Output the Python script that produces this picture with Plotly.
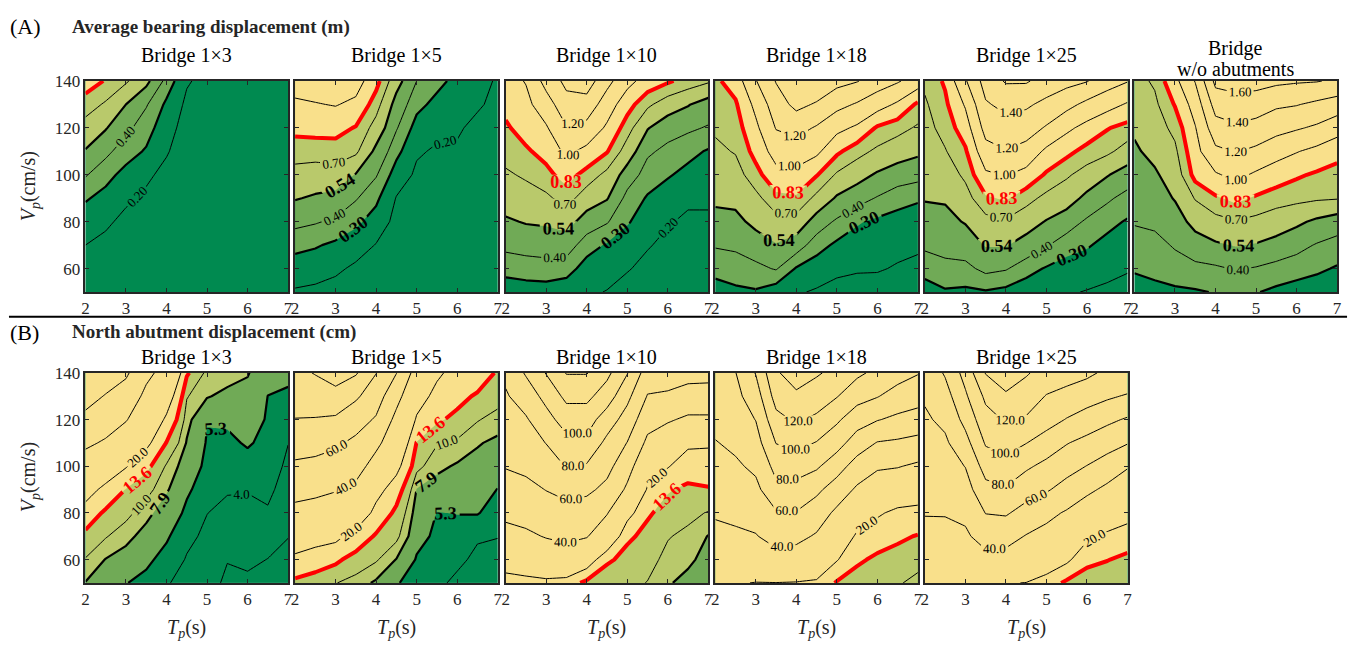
import numpy as np
import plotly.graph_objects as go

W, H = 1359, 648
SERIF = "Liberation Serif, Times New Roman, serif"
INK = "#262626"

# Grid: pulse period Tp (s) and pulse velocity Vp (cm/s)
TP = [2.0, 2.5, 3.0, 3.5, 4.0, 4.5, 5.0, 5.5, 6.0, 6.5, 7.0]
VP = [50, 60, 70, 80, 90, 100, 110, 120, 130, 140]

# ---- (A) average bearing displacement (m); one row per Tp, values along VP ----
BEARING_1X3 = [
    [0.12, 0.16, 0.20, 0.25, 0.31, 0.41, 0.53, 0.64, 0.77, 0.90],
    [0.10, 0.13, 0.17, 0.22, 0.27, 0.33, 0.43, 0.55, 0.68, 0.82],
    [0.09, 0.11, 0.14, 0.17, 0.22, 0.27, 0.34, 0.43, 0.54, 0.72],
    [0.08, 0.10, 0.12, 0.15, 0.18, 0.22, 0.29, 0.34, 0.41, 0.58],
    [0.07, 0.08, 0.10, 0.12, 0.14, 0.17, 0.21, 0.24, 0.28, 0.36],
    [0.06, 0.07, 0.08, 0.09, 0.10, 0.12, 0.14, 0.16, 0.18, 0.21],
    [0.05, 0.06, 0.07, 0.08, 0.09, 0.10, 0.11, 0.13, 0.15, 0.17],
    [0.05, 0.05, 0.06, 0.07, 0.08, 0.09, 0.10, 0.11, 0.13, 0.15],
    [0.04, 0.05, 0.06, 0.06, 0.07, 0.08, 0.09, 0.10, 0.11, 0.13],
    [0.04, 0.04, 0.05, 0.06, 0.06, 0.07, 0.08, 0.09, 0.10, 0.12],
    [0.03, 0.04, 0.05, 0.05, 0.06, 0.07, 0.07, 0.08, 0.09, 0.11],
]
BEARING_1X5 = [
    [0.19, 0.25, 0.33, 0.43, 0.55, 0.65, 0.76, 0.87, 0.97, 1.08],
    [0.18, 0.24, 0.31, 0.41, 0.52, 0.63, 0.76, 0.88, 0.99, 1.10],
    [0.16, 0.22, 0.28, 0.38, 0.49, 0.64, 0.77, 0.88, 1.01, 1.12],
    [0.14, 0.18, 0.25, 0.32, 0.41, 0.53, 0.73, 0.82, 0.96, 1.08],
    [0.12, 0.15, 0.195, 0.26, 0.32, 0.41, 0.50, 0.64, 0.76, 0.88],
    [0.10, 0.12, 0.15, 0.17, 0.195, 0.25, 0.33, 0.41, 0.48, 0.60],
    [0.09, 0.11, 0.13, 0.15, 0.17, 0.185, 0.21, 0.26, 0.33, 0.40],
    [0.08, 0.10, 0.12, 0.14, 0.16, 0.175, 0.19, 0.22, 0.27, 0.33],
    [0.07, 0.09, 0.11, 0.13, 0.15, 0.17, 0.19, 0.21, 0.24, 0.27],
    [0.06, 0.08, 0.10, 0.12, 0.14, 0.15, 0.17, 0.18, 0.21, 0.23],
    [0.06, 0.07, 0.09, 0.11, 0.12, 0.14, 0.15, 0.16, 0.18, 0.19],
]
BEARING_1X10 = [
    [0.25, 0.33, 0.43, 0.52, 0.61, 0.68, 0.75, 0.81, 0.87, 0.93],
    [0.26, 0.34, 0.45, 0.55, 0.64, 0.72, 0.81, 0.89, 0.95, 1.01],
    [0.26, 0.35, 0.46, 0.56, 0.67, 0.79, 0.88, 0.98, 1.11, 1.27],
    [0.24, 0.34, 0.46, 0.60, 0.76, 0.89, 1.04, 1.19, 1.33, 1.45],
    [0.22, 0.26, 0.34, 0.47, 0.62, 0.78, 0.95, 1.14, 1.32, 1.50],
    [0.195, 0.25, 0.29, 0.41, 0.55, 0.66, 0.84, 0.97, 1.10, 1.26],
    [0.15, 0.21, 0.25, 0.31, 0.36, 0.47, 0.63, 0.76, 0.89, 1.06],
    [0.13, 0.165, 0.21, 0.25, 0.29, 0.35, 0.42, 0.55, 0.73, 0.92],
    [0.11, 0.14, 0.17, 0.21, 0.25, 0.31, 0.37, 0.45, 0.62, 0.85],
    [0.10, 0.13, 0.16, 0.18, 0.22, 0.27, 0.33, 0.42, 0.55, 0.78],
    [0.10, 0.12, 0.15, 0.18, 0.22, 0.26, 0.29, 0.39, 0.47, 0.72],
]
BEARING_1X18 = [
    [0.26, 0.33, 0.41, 0.49, 0.57, 0.62, 0.67, 0.72, 0.76, 0.80],
    [0.28, 0.35, 0.42, 0.50, 0.58, 0.64, 0.71, 0.76, 0.81, 0.90],
    [0.29, 0.37, 0.47, 0.58, 0.66, 0.78, 0.88, 0.96, 1.05, 1.19],
    [0.24, 0.41, 0.53, 0.65, 0.79, 0.94, 1.08, 1.21, 1.31, 1.41],
    [0.21, 0.29, 0.46, 0.64, 0.81, 0.95, 1.10, 1.27, 1.45, 1.56],
    [0.19, 0.25, 0.34, 0.47, 0.66, 0.84, 1.04, 1.18, 1.38, 1.55],
    [0.17, 0.22, 0.28, 0.38, 0.52, 0.68, 0.86, 1.05, 1.26, 1.46],
    [0.16, 0.21, 0.26, 0.31, 0.45, 0.60, 0.75, 0.97, 1.18, 1.41],
    [0.15, 0.21, 0.25, 0.28, 0.39, 0.52, 0.67, 0.81, 1.08, 1.30],
    [0.14, 0.19, 0.23, 0.27, 0.33, 0.47, 0.61, 0.75, 0.97, 1.22],
    [0.13, 0.17, 0.22, 0.26, 0.31, 0.44, 0.57, 0.68, 0.80, 1.10],
]
BEARING_1X25 = [
    [0.25, 0.34, 0.42, 0.48, 0.55, 0.59, 0.62, 0.65, 0.68, 0.73],
    [0.29, 0.36, 0.45, 0.50, 0.555, 0.62, 0.69, 0.75, 0.80, 0.85],
    [0.28, 0.37, 0.46, 0.55, 0.64, 0.73, 0.81, 0.91, 1.02, 1.18],
    [0.29, 0.43, 0.55, 0.65, 0.81, 0.97, 1.13, 1.27, 1.38, 1.48],
    [0.27, 0.41, 0.55, 0.68, 0.85, 1.01, 1.19, 1.33, 1.45, 1.62],
    [0.24, 0.34, 0.48, 0.61, 0.75, 0.94, 1.13, 1.29, 1.43, 1.62],
    [0.22, 0.29, 0.41, 0.53, 0.66, 0.81, 0.96, 1.18, 1.35, 1.52],
    [0.21, 0.26, 0.34, 0.46, 0.61, 0.72, 0.87, 1.04, 1.26, 1.46],
    [0.195, 0.25, 0.31, 0.38, 0.50, 0.64, 0.78, 0.94, 1.15, 1.41],
    [0.18, 0.23, 0.27, 0.33, 0.42, 0.55, 0.73, 0.84, 1.07, 1.29],
    [0.16, 0.21, 0.25, 0.29, 0.36, 0.47, 0.64, 0.78, 0.98, 1.21],
]
BEARING_NO_ABUT = [
    [0.26, 0.31, 0.35, 0.41, 0.44, 0.48, 0.52, 0.56, 0.61, 0.65],
    [0.27, 0.33, 0.37, 0.42, 0.47, 0.52, 0.58, 0.63, 0.67, 0.72],
    [0.28, 0.36, 0.41, 0.47, 0.55, 0.61, 0.67, 0.74, 0.84, 0.95],
    [0.29, 0.37, 0.47, 0.59, 0.71, 0.88, 0.94, 0.99, 1.08, 1.21],
    [0.305, 0.38, 0.52, 0.65, 0.81, 0.98, 1.16, 1.32, 1.48, 1.65],
    [0.31, 0.41, 0.55, 0.69, 0.87, 1.05, 1.21, 1.37, 1.52, 1.68],
    [0.305, 0.39, 0.53, 0.66, 0.81, 0.97, 1.16, 1.33, 1.50, 1.67],
    [0.28, 0.36, 0.49, 0.62, 0.76, 0.91, 1.07, 1.27, 1.43, 1.64],
    [0.26, 0.34, 0.44, 0.57, 0.74, 0.85, 1.01, 1.22, 1.41, 1.62],
    [0.24, 0.32, 0.39, 0.51, 0.72, 0.81, 0.95, 1.17, 1.36, 1.61],
    [0.22, 0.29, 0.36, 0.46, 0.71, 0.78, 0.88, 1.08, 1.31, 1.57],
]

# ---- (B) north abutment displacement (cm) ----
ABUT_1X3 = [
    [7.8, 9.8, 12.5, 16.5, 24, 32, 43, 56, 66, 76],
    [6.5, 7.8, 10.2, 12.8, 17.5, 27, 38, 48, 59, 69],
    [5.35, 6.9, 8.6, 10.8, 13.4, 20.5, 30, 41, 51, 63],
    [4.9, 5.6, 7.0, 8.6, 11.0, 14.8, 22, 29, 36, 44],
    [4.1, 4.8, 5.5, 6.6, 8.2, 9.6, 13.4, 18.5, 25, 34],
    [3.6, 3.9, 4.3, 4.9, 5.6, 6.6, 7.7, 8.7, 10.2, 14.2],
    [3.2, 3.5, 3.75, 4.02, 4.4, 4.8, 5.1, 5.4, 8.1, 9.2],
    [2.9, 3.02, 3.3, 3.7, 4.1, 4.5, 4.9, 5.6, 7.2, 9.0],
    [2.8, 3.2, 3.5, 3.75, 4.05, 4.6, 5.5, 6.3, 7.0, 8.1],
    [2.7, 2.98, 3.4, 3.9, 4.2, 4.5, 4.8, 5.1, 5.28, 6.0],
    [2.5, 2.8, 3.02, 3.3, 3.6, 3.8, 4.02, 4.5, 5.1, 5.6],
]
ABUT_1X5 = [
    [12.5, 18, 26, 35, 46, 57, 68, 79.5, 88, 95],
    [12, 15.5, 24, 33, 44, 55, 67, 79, 90, 101],
    [10.1, 14.5, 22, 31, 41, 52, 63, 77, 94, 108],
    [9, 11.8, 17, 27, 36, 47, 56, 68, 83, 102],
    [7.5, 10.3, 13.0, 17.5, 23, 33, 44, 58, 69, 80.5],
    [5.5, 7.8, 10.7, 12.5, 16, 22.5, 29, 35, 46, 60.5],
    [4.3, 5.1, 6.0, 6.8, 7.8, 10.8, 13.4, 19, 24, 32],
    [4.2, 4.5, 4.9, 5.25, 6.8, 8.5, 10.2, 14.3, 17.5, 21.5],
    [3.8, 4.2, 4.7, 5.35, 6.2, 7.6, 9.5, 12.5, 15, 17],
    [3.4, 3.8, 4.1, 5.4, 6.1, 7.1, 8.1, 10.2, 13.0, 16.5],
    [3.1, 3.5, 4.05, 4.6, 5.25, 6.3, 7.4, 9.0, 11.2, 13.0],
]
ABUT_1X10 = [
    [17, 24, 34, 44, 52, 61, 67, 73, 78, 84],
    [17.5, 26, 37, 46, 55, 64, 71, 78, 89, 102],
    [18, 29, 41, 51, 60.5, 70, 80.5, 93, 106, 121],
    [17, 30, 44, 53, 66, 81, 94, 109, 125, 141],
    [12, 25, 41, 50, 64, 78, 95, 109, 125, 141],
    [10.3, 14.5, 29, 41, 55, 66, 75, 90, 110, 125],
    [10.8, 12.0, 14.5, 23, 37, 47, 59.5, 72, 85, 101],
    [9.9, 11, 12.3, 14.2, 19, 25, 36, 47, 59, 70],
    [8.1, 9.2, 10.2, 12, 14, 20.5, 28, 42, 57, 70],
    [7.3, 8.3, 9.3, 10.8, 12.7, 16.0, 21.5, 37, 52, 67],
    [6.4, 7.2, 7.8, 9.8, 13.2, 16.5, 21, 37, 52, 66],
]
ABUT_1X18 = [
    [21, 29, 35, 42, 48, 54, 59, 66, 72, 78],
    [21, 30, 37, 44, 51, 57, 64, 70, 75, 79.5],
    [19.6, 32, 39, 47, 55, 64, 72, 80.5, 90, 101],
    [19.8, 33, 47, 58, 75, 86, 100.5, 114, 128, 138],
    [19.5, 31, 45, 59, 73, 89, 106, 123, 137, 148],
    [18.5, 29, 38, 50, 64, 83, 99, 116, 131, 142],
    [13, 20.5, 28, 36, 51, 68, 88, 103, 121, 135],
    [11.3, 14.5, 18.5, 26, 37, 52, 70, 89, 107, 124],
    [10.5, 12.6, 16.2, 21, 31, 42, 59, 81, 101, 115],
    [10.3, 11.8, 14.5, 18.3, 26, 41, 57, 76, 92, 108],
    [9.2, 11, 13.3, 17.5, 25, 37, 54, 72, 88, 101],
]
ABUT_1X25 = [
    [20.3, 26, 34, 41, 46, 50, 54, 57.5, 62, 66],
    [20.5, 27, 35, 41, 47, 52, 57, 64, 72, 82],
    [21, 29, 37, 44, 52, 60.5, 73, 86, 97, 107],
    [21, 34, 48, 60.5, 74, 88, 102, 113, 124, 141],
    [20.5, 33, 47, 62, 78, 93, 108, 122, 137, 152],
    [19.8, 30, 39, 53, 68, 83, 100.5, 118, 130, 142],
    [16.5, 26, 34, 45, 62, 75, 91, 108, 119, 132],
    [12.5, 21.5, 30, 38, 53, 67, 81, 99, 114, 128],
    [11, 15, 21.5, 29, 44, 59.5, 74, 92, 108, 124],
    [10.5, 13.8, 18.5, 26, 36, 51, 68, 84, 103, 116],
    [10.2, 12.4, 16.5, 23, 32, 41, 61, 78, 98, 117],
]

# Panel titles; a list entry holds the lines of a stacked title
TOP_TITLES = ["Bridge 1×3", "Bridge 1×5", "Bridge 1×10", "Bridge 1×18",
              "Bridge 1×25", ["Bridge", "w/o abutments"]]
TOP_DATA = [BEARING_1X3, BEARING_1X5, BEARING_1X10, BEARING_1X18,
            BEARING_1X25, BEARING_NO_ABUT]
BOT_TITLES = ["Bridge 1×3", "Bridge 1×5", "Bridge 1×10", "Bridge 1×18", "Bridge 1×25"]
BOT_DATA = [ABUT_1X3, ABUT_1X5, ABUT_1X10, ABUT_1X18, ABUT_1X25]

# Threshold levels: two bold black boundaries and one red limit
BEARING_BANDS = [0.30, 0.54, 0.83]
BEARING_THIN = [0.20, 0.40, 0.70, 1.00, 1.20, 1.40, 1.60]
ABUT_BANDS = [5.3, 7.9, 13.6]
ABUT_THIN = [3.0, 4.0, 10.0, 20.0, 40.0, 60.0, 80.0, 100.0, 120.0, 140.0]

BAND_COLORS = ["#008A50", "#70AA56", "#B9C96B", "#F9E08B"]

PANEL_W = 204
LEFTS = [82, 293, 505, 716, 927, 1138]
TOP_ROW = (73, 287)
BOT_ROW = (369, 582)


def fx(px):
    """Pixel column -> paper x."""
    return px / W


def fy(py):
    """Pixel row -> paper y."""
    return 1 - py / H


fig = go.Figure()
layout_axes = {}
annotations = []


def add_panel(n, left, row, z_rows, bands, thin, fmt, show_y):
    xa = "x" if n == 1 else f"x{n}"
    ya = "y" if n == 1 else f"y{n}"
    z = np.array(z_rows, dtype=float).T  # rows follow VP, columns follow TP
    common = dict(x=TP, y=VP, z=z, xaxis=xa, yaxis=ya, showscale=False,
                  hoverinfo="skip")

    # filled bands, stacked from low to high
    for i, lv in enumerate(bands):
        fig.add_trace(go.Contour(
            **common,
            contours=dict(type="constraint", operation="<", value=lv,
                          showlabels=False),
            fillcolor=BAND_COLORS[i + 1],
            line=dict(width=0, smoothing=0),
        ))

    zmin, zmax = z.min(), z.max()
    # thin labelled contour lines
    for lv in thin:
        if not (zmin < lv < zmax):
            continue
        fig.add_trace(go.Contour(
            **common,
            contours=dict(coloring="none", start=lv, end=lv, size=1,
                          showlabels=True, labelformat=fmt,
                          labelfont=dict(family=SERIF, size=13, color="black")),
            line=dict(color="black", width=1, smoothing=0),
        ))
    # bold and red threshold lines
    for i, lv in enumerate(bands):
        if not (zmin < lv < zmax):
            continue
        red = i == 2
        col = "#FF0000" if red else "black"
        fig.add_trace(go.Contour(
            **common,
            contours=dict(coloring="none", start=lv, end=lv, size=1,
                          showlabels=True, labelformat=fmt,
                          labelfont=dict(family=SERIF, size=18, color=col,
                                         weight="bold")),
            line=dict(color=col, width=4 if red else 2.2, smoothing=0),
        ))

    ax = dict(showgrid=False, zeroline=False, showline=True, linecolor=INK,
              linewidth=1.6, mirror="allticks", ticks="inside", ticklen=4,
              tickwidth=1, tickcolor=INK,
              tickfont=dict(family=SERIF, size=17, color=INK))
    layout_axes["xaxis" if n == 1 else f"xaxis{n}"] = dict(
        ax, range=[2, 7], tickvals=[2, 3, 4, 5, 6, 7],
        domain=[fx(left), fx(left + PANEL_W)], anchor=ya)
    layout_axes["yaxis" if n == 1 else f"yaxis{n}"] = dict(
        ax, range=[50, 140], tickvals=[60, 80, 100, 120, 140],
        showticklabels=show_y,
        domain=[fy(row[1]), fy(row[0])], anchor=xa)


def note(text, x, y, size, color="black", **kw):
    annotations.append(dict(text=text, x=fx(x), y=fy(y), xref="paper",
                            yref="paper", showarrow=False,
                            xanchor=kw.pop("xanchor", "center"),
                            yanchor="middle",
                            font=dict(family=SERIF, size=size, color=color), **kw))


n = 1
for k, (title, data) in enumerate(zip(TOP_TITLES, TOP_DATA)):
    add_panel(n, LEFTS[k], TOP_ROW, data, BEARING_BANDS, BEARING_THIN, ".2f", k == 0)
    cx = LEFTS[k] + PANEL_W / 2
    if isinstance(title, list):
        note(title[0], cx, 40, 20)
        note(title[1], cx, 61, 20)
    else:
        note(title, cx, 47, 20)
    n += 1

for k, (title, data) in enumerate(zip(BOT_TITLES, BOT_DATA)):
    add_panel(n, LEFTS[k], BOT_ROW, data, ABUT_BANDS, ABUT_THIN, ".1f", k == 0)
    note(title, LEFTS[k] + PANEL_W / 2, 353, 20)
    note("<i>T</i><sub><i>p</i></sub>(s)", LEFTS[k] + PANEL_W / 2, 628, 20, INK)
    n += 1

# section headings
for label, heading, yc in [("(A)", "Average bearing displacement (m)", 18),
                           ("(B)", "North abutment displacement (cm)", 328)]:
    note(label, 4, yc, 22, xanchor="left")
    note(f"<b>{heading}</b>", 66, yc, 19, INK, xanchor="left")

# y-axis titles
for yc in (180, 475):
    note("<i>V</i><sub><i>p</i></sub>(cm/s)", 26, yc, 20, INK, textangle=-90)

fig.update_layout(
    width=W, height=H, autosize=False, margin=dict(l=0, r=0, t=0, b=0),
    paper_bgcolor="white", plot_bgcolor=BAND_COLORS[0],
    showlegend=False, annotations=annotations,
    shapes=[dict(type="line", xref="paper", yref="paper", x0=fx(5), x1=fx(1352),
                 y0=fy(312), y1=fy(312), line=dict(color="black", width=2))],
    **layout_axes,
)

fig.write_html("out.html", config={"responsive": False, "displayModeBar": False})
